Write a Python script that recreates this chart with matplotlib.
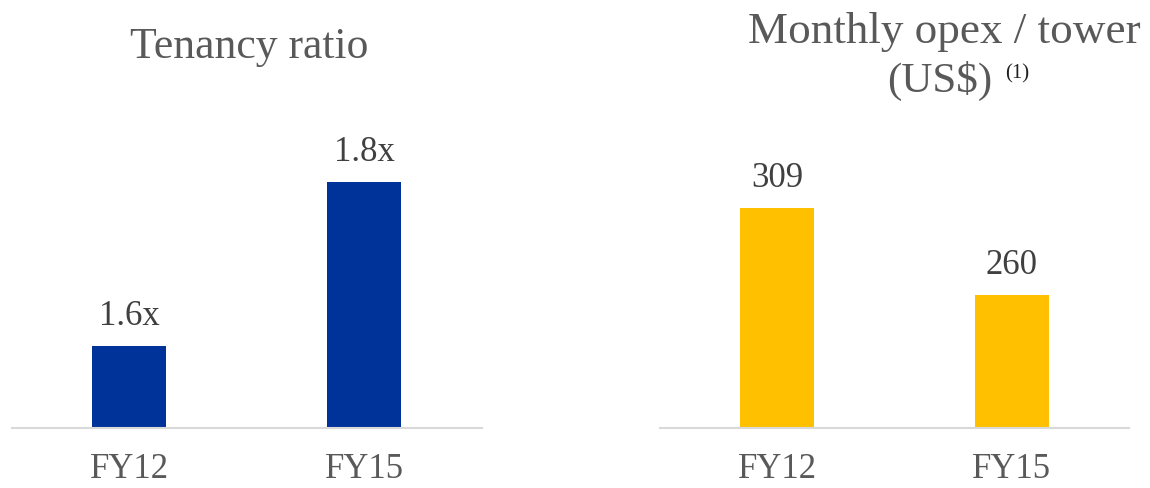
import matplotlib.pyplot as plt

plt.rcParams['font.family'] = ['Liberation Serif', 'DejaVu Serif']

periods = ["FY12", "FY15"]
tenancy = [1.6, 1.8]
tenancy_labels = ["1.6x", "1.8x"]
opex = [309, 260]
opex_labels = ["309", "260"]

BLUE = "#003399"
GOLD = "#FFC000"
GREY = "#595959"
DARK = "#404040"
AXIS = "#D9D9D9"

fig = plt.figure(figsize=(11.5, 4.88), dpi=100)

ax1 = fig.add_axes([0.0104, 0.123, 0.4087, 0.672])
ax2 = fig.add_axes([0.5739, 0.123, 0.4078, 0.672])


def draw_panel(ax, values, labels, color, ylim):
    x = range(len(values))
    bars = ax.bar(x, values, width=0.315, color=color, bottom=0)
    ax.set_xlim(-0.5, 1.5)
    ax.set_ylim(*ylim)
    for b, lab in zip(bars, labels):
        ax.annotate(lab, (b.get_x() + b.get_width() / 2, b.get_height()),
                    xytext=(0, 15), textcoords="offset points",
                    ha="center", va="baseline", fontsize=25, color=DARK)
    ax.set_xticks(list(x), periods)
    ax.tick_params(axis="x", length=0, pad=18, labelsize=25, labelcolor=GREY)
    ax.set_yticks([])
    for s in ("top", "left", "right"):
        ax.spines[s].set_visible(False)
    ax.spines["bottom"].set_color(AXIS)
    ax.spines["bottom"].set_linewidth(1.5)
    ax.set_facecolor("none")


draw_panel(ax1, tenancy, tenancy_labels, BLUE, (1.5, 1.9))
draw_panel(ax2, opex, opex_labels, GOLD, (185, 370))

# panel titles
fig.text(249 / 1150, 1 - 58 / 488, "Tenancy ratio", ha="center", va="baseline",
         fontsize=31.5, color=GREY)
fig.text(944 / 1150, 1 - 43 / 488, "Monthly opex / tower", ha="center",
         va="baseline", fontsize=32.5, color=GREY)
fig.text(992 / 1150, 1 - 92 / 488, "(US$)", ha="right", va="baseline",
         fontsize=31, color=GREY)
fig.text(1005 / 1150, 1 - 78 / 488, "(1)", ha="left", va="baseline",
         fontsize=15, color="#202020")

fig.savefig("out.png", dpi=100, facecolor="white")
